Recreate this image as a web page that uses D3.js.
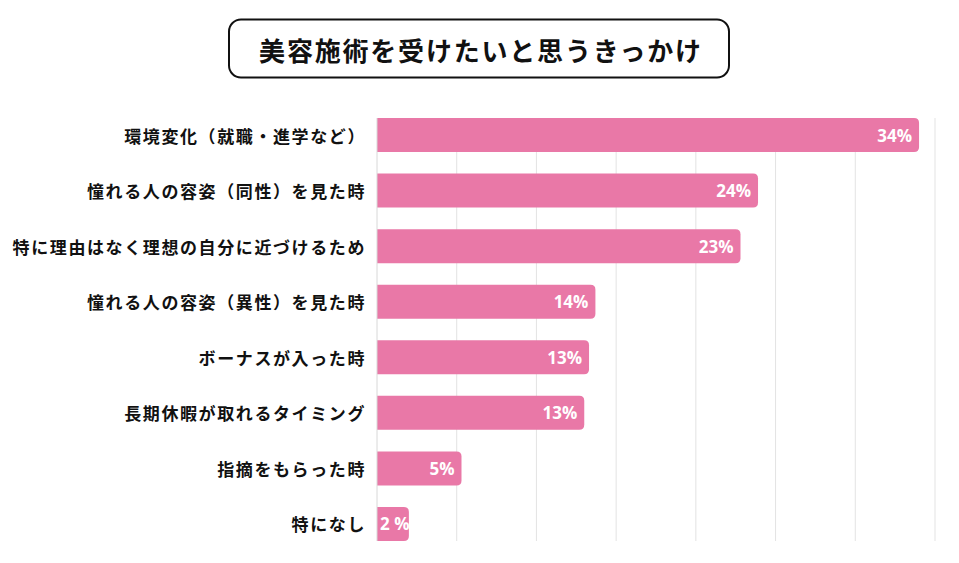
<!DOCTYPE html>
<html>
<head>
<meta charset="utf-8">
<script src="https://cdn.jsdelivr.net/npm/d3@7"></script>
<style>
  html, body { margin: 0; padding: 0; background: #fff; }
  svg { display: block; }
</style>
</head>
<body>
<svg id="chart" width="959" height="563"></svg>
<script>
const title = "美容施術を受けたいと思うきっかけ";
const categories = [
  "環境変化（就職・進学など）",
  "憧れる人の容姿（同性）を見た時",
  "特に理由はなく理想の自分に近づけるため",
  "憧れる人の容姿（異性）を見た時",
  "ボーナスが入った時",
  "長期休暇が取れるタイミング",
  "指摘をもらった時",
  "特になし"
];
const values = [34.0, 23.9, 22.8, 13.7, 13.3, 13.0, 5.3, 2.0];
const valueLabels = ["34%", "24%", "23%", "14%", "13%", "13%", "5%", "2 %"];
const gridTicks = [0, 5, 10, 15, 20, 25, 30, 35];

const svg = d3.select("#chart");
const barColor = "#e978a7";
const jpFont = "'Noto Sans CJK JP', 'Noto Sans', sans-serif";

const x = d3.scaleLinear().domain([0, 35]).range([377, 935]);
const y = d3.scaleBand().domain(categories).range([118, 541]).paddingInner(0.388).paddingOuter(0);

// title box
svg.append("rect")
  .attr("x", 229).attr("y", 19.5).attr("width", 500).attr("height", 58)
  .attr("rx", 12).attr("ry", 12)
  .attr("fill", "#fff").attr("stroke", "#111").attr("stroke-width", 2);
svg.append("text")
  .attr("x", 481).attr("y", 49)
  .attr("text-anchor", "middle").attr("dominant-baseline", "central")
  .attr("font-family", jpFont).attr("font-weight", 700)
  .attr("font-size", 26).attr("letter-spacing", 1.8)
  .attr("fill", "#111")
  .text(title);

// grid lines
svg.append("g").selectAll("line")
  .data(gridTicks.slice(1))
  .join("line")
  .attr("x1", d => x(d)).attr("x2", d => x(d))
  .attr("y1", 118).attr("y2", 541)
  .attr("stroke", "#e3e3e3").attr("stroke-width", 1);

// bars with right-side rounded corners
const r = 5;
function barPath(d, i) {
  const x0 = x(0), x1 = x(d), y0 = y(categories[i]), h = y.bandwidth();
  const rr = Math.min(r, (x1 - x0) / 2);
  return `M${x0},${y0}H${x1 - rr}Q${x1},${y0} ${x1},${y0 + rr}V${y0 + h - rr}Q${x1},${y0 + h} ${x1 - rr},${y0 + h}H${x0}Z`;
}
svg.append("g").selectAll("path")
  .data(values)
  .join("path")
  .attr("d", barPath)
  .attr("fill", barColor);

// axis line
svg.append("line")
  .attr("x1", x(0)).attr("x2", x(0))
  .attr("y1", 118).attr("y2", 541)
  .attr("stroke", "#d8d8d8").attr("stroke-width", 1);

// category labels
svg.append("g").selectAll("text")
  .data(categories)
  .join("text")
  .attr("x", 366)
  .attr("y", d => y(d) + y.bandwidth() / 2)
  .attr("text-anchor", "end").attr("dominant-baseline", "central")
  .attr("font-family", jpFont).attr("font-weight", 700)
  .attr("font-size", 17).attr("letter-spacing", 1.6)
  .attr("fill", "#111")
  .text(d => d);

// value labels
svg.append("g").selectAll("text")
  .data(values)
  .join("text")
  .attr("x", d => x(d) - 7)
  .attr("y", (d, i) => y(categories[i]) + y.bandwidth() / 2)
  .attr("text-anchor", "end").attr("dominant-baseline", "central")
  .attr("font-family", "'Open Sans', sans-serif").attr("font-weight", 700)
  .attr("font-size", 17)
  .attr("fill", "#fff")
  .text((d, i) => valueLabels[i])
  .each(function(d) {
    const w = this.getComputedTextLength();
    if (x(d) - 7 - w < x(0) + 2) {
      d3.select(this).attr("text-anchor", "start").attr("x", x(0) + 3);
    }
  });
</script>
</body>
</html>
